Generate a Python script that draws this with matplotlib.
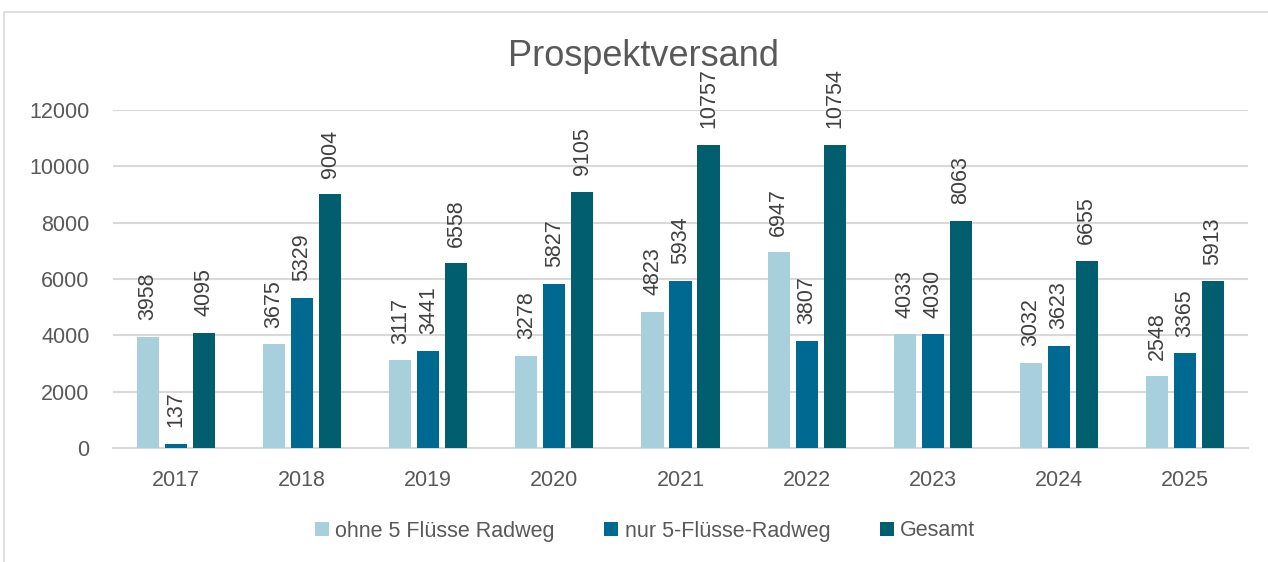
import matplotlib
matplotlib.use("Agg")
import matplotlib.pyplot as plt
import numpy as np
from matplotlib.patches import Rectangle

years = ["2017", "2018", "2019", "2020", "2021", "2022", "2023", "2024", "2025"]
ohne = [3958, 3675, 3117, 3278, 4823, 6947, 4033, 3032, 2548]
nur = [137, 5329, 3441, 5827, 5934, 3807, 4030, 3623, 3365]
gesamt = [4095, 9004, 6558, 9105, 10757, 10754, 8063, 6655, 5913]
series_names = ["ohne 5 Flüsse Radweg", "nur 5-Flüsse-Radweg", "Gesamt"]
colors = ["#A8CFDC", "#006991", "#005E6F"]

plt.rcParams['font.family'] = ['Liberation Sans', 'DejaVu Sans']
txt = "#595959"
fs = 15.5

fig = plt.figure(figsize=(12.68, 5.62), dpi=100)
ax = fig.add_axes([113/1268, 1-448/562, (1248-113)/1268, (448-110)/562])

x = np.arange(len(years))
w = 0.175
off = 0.222
for i, (vals, name, c) in enumerate(zip([ohne, nur, gesamt], series_names, colors)):
    pos = x + (i - 1) * off
    ax.bar(pos, vals, width=w, color=c, label=name, zorder=3)
    for p, v in zip(pos, vals):
        ax.annotate(str(v), (p, v), xytext=(0, 12), textcoords="offset points",
                    rotation=90, ha="center", va="bottom", fontsize=fs,
                    color="#404040", annotation_clip=False)

ax.set_xlim(-0.5, len(years) - 0.5)
ax.set_ylim(0, 12000)
ax.set_yticks(np.arange(0, 12001, 2000))
ax.set_xticks(x)
ax.set_xticklabels(years)
ax.tick_params(axis="both", length=0, labelsize=fs, labelcolor=txt)
ax.tick_params(axis="y", pad=17)
ax.tick_params(axis="x", pad=16)
ax.grid(axis="y", color="#D9D9D9", linewidth=1.5, zorder=0)
for s in ["top", "right", "left"]:
    ax.spines[s].set_visible(False)
ax.spines["bottom"].set_color("#D9D9D9")
ax.spines["bottom"].set_linewidth(1.5)
ax.set_facecolor("none")

fig.text(643/1268, 1-56/562, "Prospektversand", ha="center", va="center",
         fontsize=26, color=txt)

leg = fig.legend(loc="center", bbox_to_anchor=(645/1268, 1-531/562), ncol=3,
                 frameon=False, fontsize=fs, handlelength=0.65, handleheight=0.65,
                 handletextpad=0.3, columnspacing=2.3)
for t in leg.get_texts():
    t.set_color(txt)

# outer chart border
fig.patches.append(Rectangle((4/1268, -0.1), 1.2, 1-12/562 + 0.1,
                             transform=fig.transFigure, fill=False,
                             edgecolor="#D9D9D9", linewidth=1.2))

fig.savefig("out.png", dpi=100)
